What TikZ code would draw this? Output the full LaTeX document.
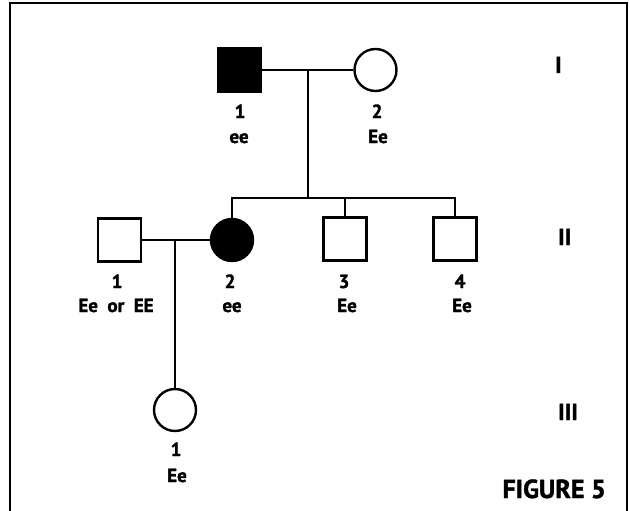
\documentclass[tikz,border=0pt]{standalone}
\usepackage{fontspec}
\setmainfont{PT Sans}[BoldFeatures={FakeBold=1.6}]
\begin{document}
\begin{tikzpicture}[x=1pt,y=-1pt,
  line width=2.4pt,
  male/.style={draw,rectangle,minimum size=43pt,inner sep=0pt},
  female/.style={draw,circle,minimum size=42pt,inner sep=0pt},
  aff/.style={fill=black},
  lbl/.style={anchor=base,inner sep=0pt,font=\fontsize{19}{19}\selectfont\bfseries},
  gen/.style={anchor=base west,inner sep=0pt,font=\fontsize{23}{23}\selectfont\bfseries},
  fig/.style={anchor=base east,inner sep=0pt,font=\fontsize{26}{26}\selectfont\bfseries}]
\useasboundingbox (0,0) rectangle (630,511);
\fill[white] (0,0) rectangle (630,511);
% frame
\draw[line width=1.8pt] (10,520) -- (10,3) -- (627,3) -- (627,520);
% generation I
\node[male,aff] (I1) at (239.5,70) {};
\node[female] (I2) at (375.5,70) {};
\draw (I1.east) -- (I2.west);
\coordinate (m1) at (308,70);
\coordinate (s) at (308,198);
% generation II
\node[male] (II1) at (119.5,240) {};
\node[female,aff] (II2) at (232,240) {};
\node[male] (II3) at (345,239) {};
\node[male] (II4) at (455,239) {};
\draw (m1) -- (s);
\draw (II2.north) |- (II4.north |- s) -- (II4.north);
\draw (II3.north) -- (II3.north |- s);
\draw (II1.east) -- (II2.west);
\coordinate (m2) at (175,240);
% generation III
\node[female] (III1) at (175,410) {};
\draw (m2) -- (III1.north);
% labels
\node[lbl] (lI1n) at (240,118) {1};
\node[lbl] (lI1g) at (239,143) {ee};
\node[lbl] (lI2n) at (377,118) {2};
\node[lbl] (lI2g) at (378,143) {Ee};
\node[lbl] (lII1n) at (117,288) {1};
\node[lbl] (lII1g) at (116,312) {Ee\hspace{0.5em}or\hspace{0.5em}EE};
\node[lbl] (lII2n) at (230,288) {2};
\node[lbl] (lII2g) at (232,312) {ee};
\node[lbl] (lII3n) at (344,288) {3};
\node[lbl] (lII3g) at (347,312) {Ee};
\node[lbl] (lII4n) at (460,288) {4};
\node[lbl] (lII4g) at (462,312) {Ee};
\node[lbl] (lIII1n) at (176,456) {1};
\node[lbl] (lIII1g) at (177,482) {Ee};
\node[gen] (gI) at (554,73) {I};
\node[gen] (gII) at (557,245) {II};
\node[gen] (gIII) at (557,420) {III};
\node[fig] (f5) at (607,498) {FIGURE 5};
\end{tikzpicture}
\end{document}
